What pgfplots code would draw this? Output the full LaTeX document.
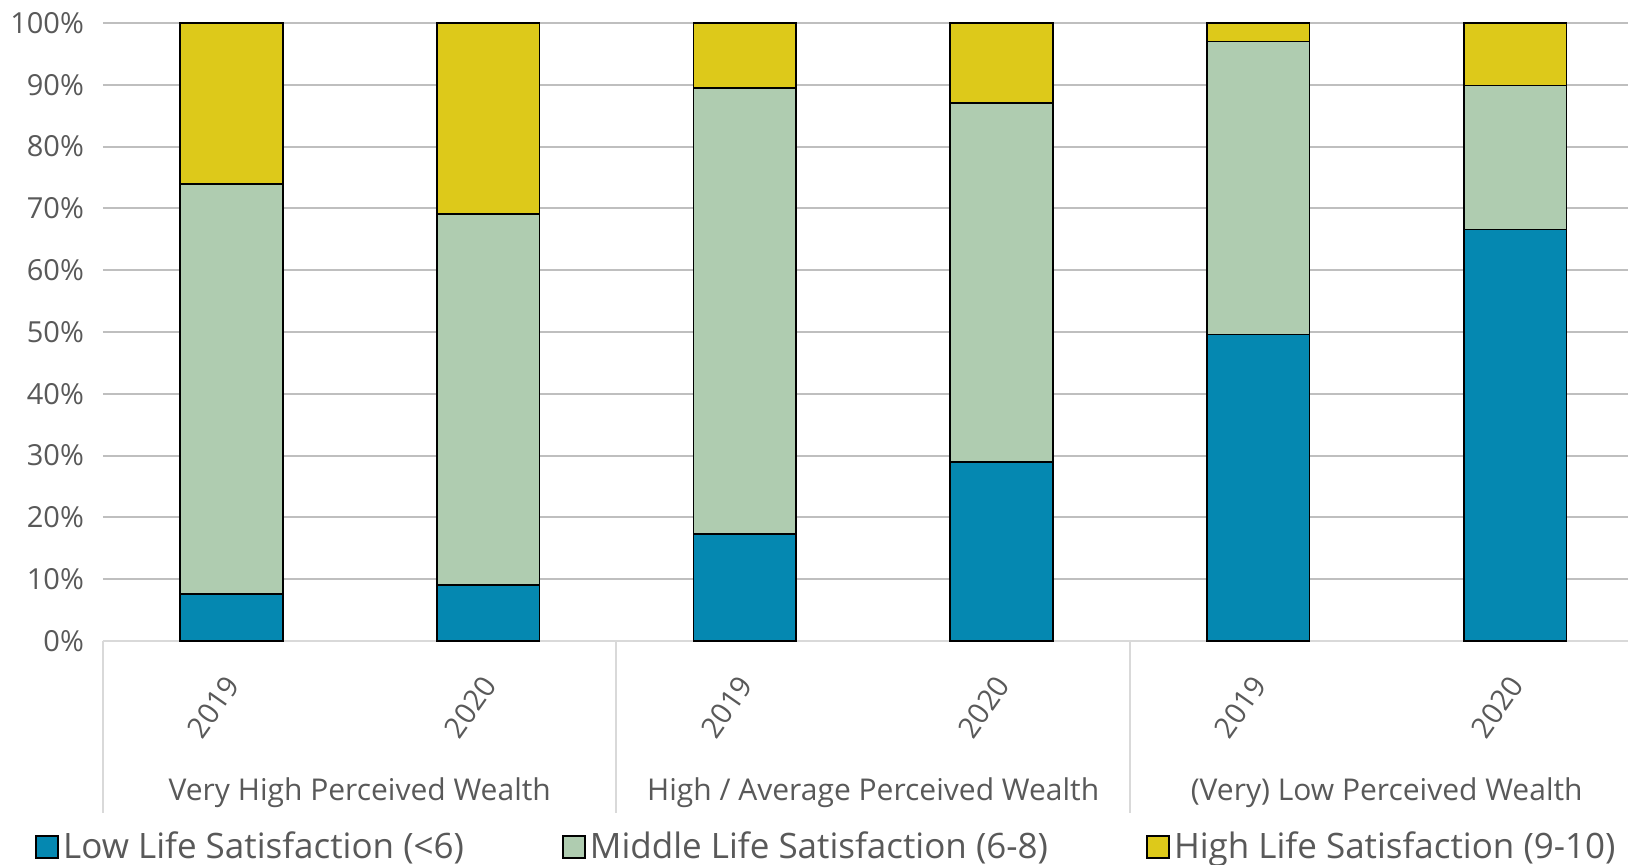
\documentclass[border=0pt]{standalone}
\usepackage{fontspec}
\setmainfont{Open Sans}
\usepackage{pgfplots}
\pgfplotsset{compat=1.18}

\definecolor{lowc}{HTML}{0588B1}
\definecolor{midc}{HTML}{AFCCB0}
\definecolor{highc}{HTML}{DDC91A}
\definecolor{txt}{HTML}{595959}
\definecolor{grid}{HTML}{D9D9D9}

\begin{document}
\begin{tikzpicture}
\begin{axis}[
  name=ax,
  scale only axis,
  width=762.5pt, height=309pt,
  ybar stacked, bar width=0.4,
  xmin=-0.5, xmax=5.44,
  ymin=0, ymax=100,
  xtick={0,...,5},
  xticklabels={2019,2020,2019,2020,2019,2020},
  ytick={0,10,...,100},
  yticklabels={0\%,10\%,20\%,30\%,40\%,50\%,60\%,70\%,80\%,90\%,100\%},
  major tick length=0pt,
  ymajorgrids, grid style={grid, line width=1pt},
  axis x line*=bottom, axis y line*=left,
  x axis line style={grid, line width=1pt, -},
  y axis line style={draw=none},
  tick label style={font=\fontsize{14.5}{17}\selectfont, text=txt},
  yticklabel style={xshift=-6pt},
  xticklabel style={xshift=-9pt, yshift=-33pt, rotate=55, anchor=center},
  clip=false,
  legend columns=3,
  legend style={draw=none, at={(0.475,-0.333)}, anchor=center,
    font=\fontsize{17.5}{20}\selectfont, text=txt,
    /tikz/every even column/.append style={column sep=47pt}},
  legend image code/.code={\draw[#1, line width=1pt] (0pt,-5.5pt) rectangle (11pt,5.5pt);},
  every axis plot/.append style={draw=black, line width=0.8pt},
]
\addplot[fill=lowc] coordinates {(0,7.6) (1,9.1) (2,17.3) (3,29.0) (4,49.6) (5,66.6)};
\addlegendentry{Low Life Satisfaction (<6)}
\addplot[fill=midc] coordinates {(0,66.3) (1,60.0) (2,72.2) (3,58.1) (4,47.4) (5,23.3)};
\addlegendentry{Middle Life Satisfaction (6-8)}
\addplot[fill=highc] coordinates {(0,26.1) (1,30.9) (2,10.5) (3,12.9) (4,3.0) (5,10.1)};
\addlegendentry{High Life Satisfaction (9-10)}

% group separators and group names below the year labels
\draw[grid, line width=1pt] (axis cs:-0.5,0) -- ([yshift=-86pt]axis cs:-0.5,0);
\draw[grid, line width=1pt] (axis cs:1.5,0) -- ([yshift=-86pt]axis cs:1.5,0);
\draw[grid, line width=1pt] (axis cs:3.5,0) -- ([yshift=-86pt]axis cs:3.5,0);
\node[text=txt, font=\fontsize{15}{18}\selectfont] at ([yshift=-76pt]axis cs:0.5,0) {Very High Perceived Wealth};
\node[text=txt, font=\fontsize{15}{18}\selectfont] at ([yshift=-76pt]axis cs:2.5,0) {High / Average Perceived Wealth};
\node[text=txt, font=\fontsize{15}{18}\selectfont] at ([yshift=-76pt]axis cs:4.5,0) {(Very) Low Perceived Wealth};
\end{axis}
\pgfresetboundingbox
\path[use as bounding box] ([xshift=-51.5pt,yshift=-112pt]ax.south west) rectangle ([yshift=11.5pt]ax.north east);
\end{tikzpicture}
\end{document}
